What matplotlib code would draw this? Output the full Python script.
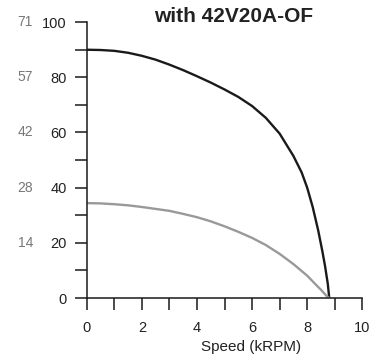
import matplotlib
matplotlib.use("Agg")
import matplotlib.pyplot as plt
from matplotlib.ticker import MultipleLocator

plt.rcParams['font.family'] = ['Liberation Sans', 'DejaVu Sans']

# Torque curves
speed_black = [0, 0.5, 1, 1.5, 2, 2.5, 3, 3.5, 4, 4.5, 5, 5.5, 6, 6.5, 7,
               7.5, 7.8, 8.0, 8.2, 8.4, 8.55, 8.65, 8.75, 8.8]
torque_black = [90, 89.9, 89.6, 88.9, 87.8, 86.4, 84.6, 82.6, 80.4, 78.1, 75.6,
                72.9, 69.6, 65.3, 59.6, 51.5, 45.5, 40, 33, 24.5, 17,
                11.5, 5, 0]

speed_gray = [0, 0.5, 1, 1.5, 2, 2.5, 3, 3.5, 4, 4.5, 5, 5.5, 6, 6.5, 7,
              7.5, 8, 8.3, 8.5, 8.7, 8.8]
torque_gray = [34.4, 34.3, 34, 33.6, 33, 32.3, 31.6, 30.5, 29.3, 27.8, 26,
               24, 21.8, 19.2, 16, 12.3, 8.1, 5, 3, 0.8, 0]

y_ticks = [0, 20, 40, 60, 80, 100]
y_ticks_secondary = ['', '14', '28', '42', '57', '71']

fig = plt.figure(figsize=(3.77, 3.63), dpi=100)
ax = fig.add_axes([0.23, 0.179, 0.731, 0.760])

ax.plot(speed_black, torque_black, color='#1a1a1a', lw=1.7)
ax.plot(speed_gray, torque_gray, color='#999999', lw=1.7)

ax.set_xlim(0, 10)
ax.set_ylim(0, 100)
ax.set_xticks([0, 2, 4, 6, 8, 10])
ax.xaxis.set_minor_locator(MultipleLocator(1))
ax.set_yticks(y_ticks)
ax.yaxis.set_minor_locator(MultipleLocator(10))

for s in ['top', 'right']:
    ax.spines[s].set_visible(False)
for s in ['left', 'bottom']:
    ax.spines[s].set_linewidth(1.1)
    ax.spines[s].set_color('#1a1a1a')

ax.tick_params(axis='y', which='both', direction='out', length=8.4, width=1.1,
               color='#1a1a1a', pad=6, labelsize=10.5, labelcolor='#222222')
ax.tick_params(axis='x', which='both', direction='out', length=8.6, width=1.1,
               color='#1a1a1a', pad=8, labelsize=10.5, labelcolor='#222222')

for y, lab in zip(y_ticks, y_ticks_secondary):
    ax.text(-0.195, y, lab, transform=ax.get_yaxis_transform(), ha='right',
            va='center', fontsize=10, color='#777777')

ax.text(0.598, -0.177, 'Speed (kRPM)', transform=ax.transAxes, ha='center',
        va='center', fontsize=11, color='#222222')
ax.text(0.533, 1.02, 'with 42V20A-OF', transform=ax.transAxes, ha='center',
        va='center', fontsize=15, fontweight='bold', color='#222222')

fig.savefig('out.png', dpi=100)
